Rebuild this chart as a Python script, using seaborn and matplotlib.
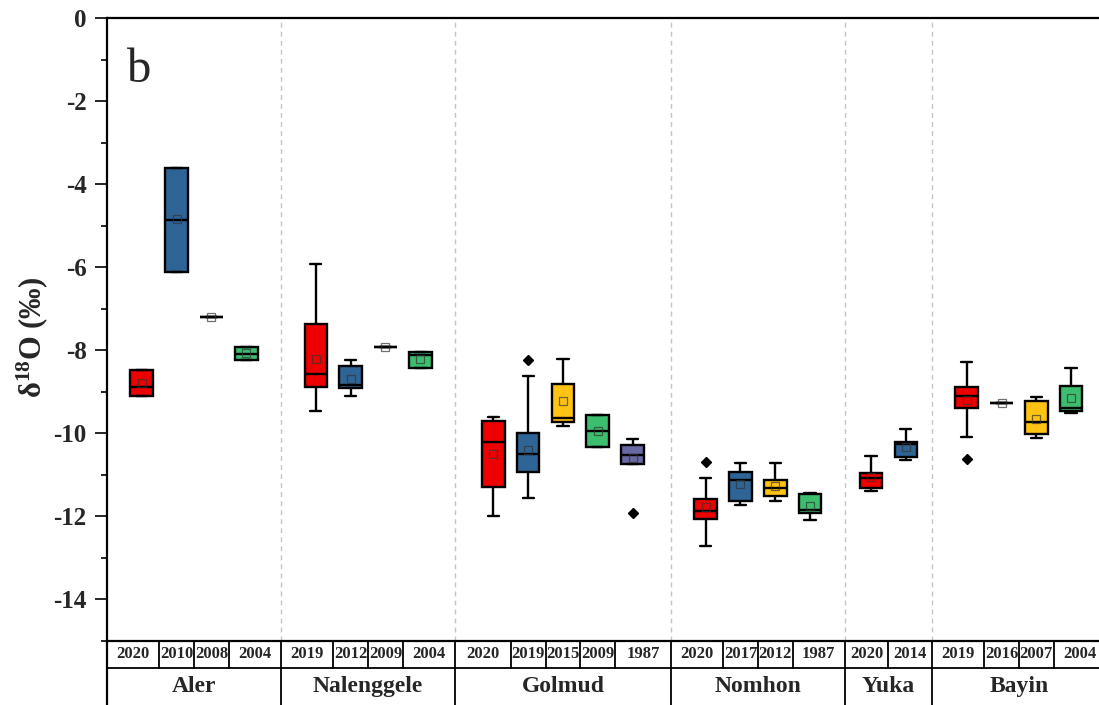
import numpy as np
import pandas as pd
import matplotlib
matplotlib.use("Agg")
import matplotlib.pyplot as plt
import seaborn as sns
from matplotlib.transforms import blended_transform_factory
from matplotlib.ticker import MultipleLocator

# ---- data -------------------------------------------------------------
sites = ["Aler", "Nalenggele", "Golmud", "Nomhon", "Yuka", "Bayin"]
years = [
    ["2020", "2010", "2008", "2004"],
    ["2019", "2012", "2009", "2004"],
    ["2020", "2019", "2015", "2009", "1987"],
    ["2020", "2017", "2012", "1987"],
    ["2020", "2014"],
    ["2019", "2016", "2007", "2004"],
]

# box statistics of δ18O (‰), one entry per sampling year in site order
whisker_low = [-9.10, -6.12, -7.21, -8.24,
               -9.47, -9.10, -7.93, -8.42,
               -12.00, -11.55, -9.82, -10.34, -10.73,
               -12.72, -11.72, -11.62, -12.09,
               -11.39, -10.64,
               -10.10, -9.26, -10.12, -9.52]
q1 = [-9.10, -6.12, -7.21, -8.24,
      -8.88, -8.91, -7.93, -8.42,
      -11.30, -10.94, -9.72, -10.34, -10.73,
      -12.06, -11.63, -11.52, -11.93,
      -11.32, -10.56,
      -9.40, -9.26, -10.02, -9.46]
median = [-8.88, -4.86, -7.21, -8.08,
          -8.58, -8.83, -7.93, -8.11,
          -10.20, -10.50, -9.63, -9.95, -10.52,
          -11.86, -11.12, -11.32, -11.85,
          -11.08, -10.26,
          -9.11, -9.26, -9.72, -9.38]
q3 = [-8.48, -3.62, -7.21, -7.93,
      -7.36, -8.37, -7.93, -8.03,
      -9.71, -9.98, -8.82, -9.57, -10.29,
      -11.57, -10.93, -11.12, -11.46,
      -10.96, -10.21,
      -8.89, -9.26, -9.22, -8.87]
whisker_high = [-8.48, -3.62, -7.21, -7.93,
                -5.93, -8.23, -7.93, -8.03,
                -9.60, -8.62, -8.22, -9.57, -10.13,
                -11.08, -10.72, -10.72, -11.43,
                -10.55, -9.90,
                -8.29, -9.26, -9.13, -8.42]
mean = [-8.80, -4.85, -7.21, -8.07,
        -8.21, -8.69, -7.93, -8.21,
        -10.50, -10.39, -9.23, -9.95, -10.60,
        -11.77, -11.22, -11.28, -11.75,
        -11.06, -10.32,
        -9.20, -9.26, -9.65, -9.16]
outlier = [None, None, None, None,
           None, None, None, None,
           None, -8.24, None, None, -11.92,
           -10.68, None, None, None,
           None, None,
           -10.62, None, None, None]

# ---- layout -----------------------------------------------------------
group_widths = [5.0, 5.0, 6.2, 5.0, 2.5, 5.0]
edges = np.concatenate([[0.0], np.cumsum(group_widths)])
centers = (edges[:-1] + edges[1:]) / 2
x_right = 28.5

palette = {"s1": "#EE0000", "s2": "#2F6496", "s3": "#FFC314",
           "s4": "#3CBE6E", "s5": "#6868A2"}

positions, slots = [], []
for g, yrs in enumerate(years):
    n = len(yrs)
    for i in range(n):
        positions.append(centers[g] + i - (n - 1) / 2)
        slots.append(f"s{i + 1}")


def box_sample(lo, a, m, b, hi, out):
    """Nine values whose quartiles / whiskers reproduce the box statistics."""
    vals = [lo, lo, a, a, m, b, b, hi, hi]
    if out is not None:
        if out < lo:
            vals[0] = out
        else:
            vals[8] = out
    return vals


rows = []
for k in range(len(positions)):
    for v in box_sample(whisker_low[k], q1[k], median[k], q3[k],
                        whisker_high[k], outlier[k]):
        rows.append({"pos": positions[k], "value": v, "slot": slots[k]})
df = pd.DataFrame(rows)

# ---- style ------------------------------------------------------------
sns.set_style("ticks")
plt.rcParams["font.family"] = ["Liberation Serif", "DejaVu Serif"]
plt.rcParams["font.weight"] = "bold"
plt.rcParams["axes.unicode_minus"] = False
plt.rcParams["mathtext.fontset"] = "custom"
plt.rcParams["mathtext.rm"] = "Liberation Serif:bold"
plt.rcParams["mathtext.bf"] = "Liberation Serif:bold"
plt.rcParams["mathtext.it"] = "Liberation Serif:bold:italic"

W, H = 1099, 705
fig = plt.figure(figsize=(W / 100, H / 100), dpi=100)
ax = fig.add_axes([107 / W, (H - 641) / H, (W - 107) / W, 623 / H])

# group separators
for e in edges[1:-1]:
    ax.axvline(e, color="#c4c4c4", lw=1.0, ls=(0, (3.5, 3)), zorder=0)

sns.boxplot(data=df, x="pos", y="value", hue="slot", palette=palette,
            native_scale=True, dodge=False, width=0.65, saturation=1,
            linecolor="black", linewidth=1.7, whis=1.5, fliersize=5,
            flierprops=dict(marker="D", markerfacecolor="black",
                            markeredgecolor="black"),
            legend=False, ax=ax)

# mean markers
ax.plot(positions, mean, ls="none", marker="s", ms=6, mfc="none",
        mec=(0.2, 0.2, 0.2, 0.7), mew=0.9, zorder=6)

ax.set_xlim(0, x_right)
ax.set_ylim(-15, 0)
ax.set_xticks([])
ax.set_xlabel("")
ax.set_ylabel("")
ax.yaxis.set_major_locator(MultipleLocator(2))
ax.yaxis.set_minor_locator(MultipleLocator(1))
ax.tick_params(axis="y", which="major", length=8.5, width=1.4,
               labelsize=18, pad=6, direction="out")
ax.tick_params(axis="y", which="minor", length=4.3, width=1.4,
               direction="out")
for lab in ax.get_yticklabels():
    lab.set_fontweight("bold")
for side in ["left", "top", "bottom"]:
    ax.spines[side].set_linewidth(1.6)
    ax.spines[side].set_color("black")
ax.spines["right"].set_visible(False)

# ---- category table under the axis --------------------------------------
tr = blended_transform_factory(ax.transData, ax.transAxes)
row_mid = -(668 - 641) / 623
row_bot = -(H - 641) / 623 - 0.01
line_kw = dict(color="black", lw=1.3, clip_on=False, transform=tr)

ax.plot([0, x_right], [row_mid, row_mid], **line_kw)
ax.plot([0, 0], [0, row_bot], color="black", lw=1.6, clip_on=False,
        transform=tr)
for e in edges[1:-1]:
    ax.plot([e, e], [0, row_bot], **line_kw)

k = 0
for g, yrs in enumerate(years):
    n = len(yrs)
    pos_g = positions[k:k + n]
    bounds = [edges[g]] + [(pos_g[i] + pos_g[i + 1]) / 2
                           for i in range(n - 1)] + [edges[g + 1]]
    for b in bounds[1:-1]:
        ax.plot([b, b], [0, row_mid], **line_kw)
    for i, y in enumerate(yrs):
        ax.text((bounds[i] + bounds[i + 1]) / 2, row_mid / 2, y,
                transform=tr, ha="center", va="center", fontsize=12,
                fontweight="bold", clip_on=False)
    ax.text(centers[g], (row_mid + (-(H - 641) / 623)) / 2, sites[g],
            transform=tr, ha="center", va="center", fontsize=17,
            fontweight="bold", clip_on=False)
    k += n

# axis title and panel letter
fig.text(32 / W, 1 - 337 / H, r"δ$^{\mathrm{18}}$O (‰)", rotation=90,
         ha="center", va="center", fontsize=22, fontweight="bold")
fig.text(127 / W, 1 - 82 / H, "b", ha="left", va="baseline",
         fontsize=35, fontweight="normal")

fig.savefig("out.png", dpi=100)
